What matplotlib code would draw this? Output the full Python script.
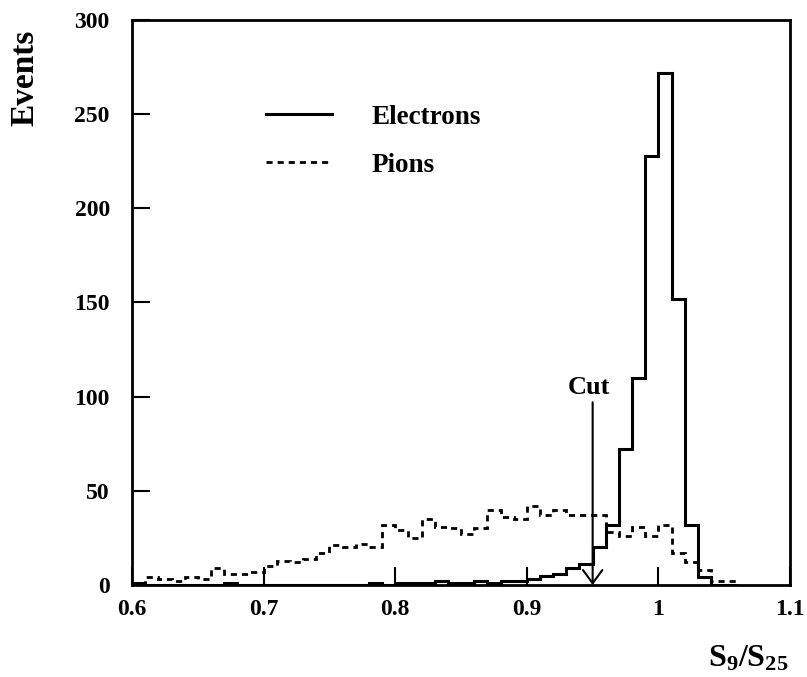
import numpy as np
import matplotlib
matplotlib.use("Agg")
import matplotlib.pyplot as plt

# histogram binning (S9/S25), 0.01 wide bins starting at 0.60
bin_start = 0.60
bin_width = 0.01

electrons = [1, 0, 0, 0, 0, 0, 0, 1, 0, 0,
             0, 0, 0, 0, 0, 0, 0, 0, 1, 0,
             1, 1, 1, 2, 1, 1, 2, 1, 2, 2,
             3, 5, 6, 9, 11, 20, 32, 72, 110, 228,
             272, 152, 32, 4, 0, 0]
pions = [1, 4, 3, 2, 4, 3, 9, 6, 6, 7,
         10, 13, 12, 14, 17, 21, 20, 22, 20, 32,
         29, 25, 35, 31, 30, 27, 30, 40, 36, 35,
         42, 37, 40, 37, 37, 37, 28, 26, 31, 26,
         32, 17, 12, 8, 2, 2]

cut_value = 0.95
cut_top = 97

x_ticks = [0.6, 0.7, 0.8, 0.9, 1.0, 1.1]
x_ticklabels = ['0.6', '0.7', '0.8', '0.9', '1', '1.1']
y_ticks = [0, 50, 100, 150, 200, 250, 300]

plt.rcParams['font.family'] = ['Liberation Serif', 'DejaVu Serif']
plt.rcParams['font.weight'] = 'bold'
plt.rcParams['mathtext.fontset'] = 'custom'
plt.rcParams['mathtext.rm'] = 'Liberation Serif:bold'
plt.rcParams['mathtext.it'] = 'Liberation Serif:bold'
plt.rcParams['mathtext.bf'] = 'Liberation Serif:bold'

edges = bin_start + bin_width * np.arange(len(electrons) + 1)

fig = plt.figure(figsize=(8.07, 6.77), dpi=100)
ax = fig.add_axes([0.1636, 0.1359, 0.8154, 0.8346])

ax.stairs(electrons, edges, color='black', lw=2.2, label='Electrons')
ax.stairs(pions, edges, color='black', lw=2.0, linestyle=(0, (2.2, 1.8)),
          label='Pions')

# cut marker
ax.annotate('', xy=(cut_value, 0), xytext=(cut_value, cut_top),
            arrowprops=dict(arrowstyle='->,head_length=0.95,head_width=0.7',
                            lw=1.5, color='black', shrinkA=0, shrinkB=0,
                            mutation_scale=10))
ax.text(cut_value - 0.003, cut_top + 2, 'Cut', ha='center', va='bottom',
        fontsize=19, fontweight='bold')

ax.set_xlim(0.6, 1.1)
ax.set_ylim(0, 300)
ax.set_xticks(x_ticks)
ax.set_xticklabels(x_ticklabels)
ax.set_yticks(y_ticks)
ax.tick_params(direction='in', length=13, width=1.5, labelsize=17,
               top=False, right=False)
ax.tick_params(axis='x', pad=10)
ax.tick_params(axis='y', pad=16)
for sp in ax.spines.values():
    sp.set_linewidth(2)

ax.legend(loc='upper left', bbox_to_anchor=(0.2036, 0.85), frameon=False,
          fontsize=19.5, handlelength=2.45, handletextpad=1.45,
          labelspacing=0.85, borderpad=0, borderaxespad=0)

fig.text(0.031, 0.885, 'Events', rotation=90, ha='center', va='center',
         fontsize=24, fontweight='bold')
fig.text(0.977, 0.027, r'$\mathrm{S}_{9}/\mathrm{S}_{25}$', ha='right',
         va='center', fontsize=23)

fig.savefig('out.png', dpi=100)
